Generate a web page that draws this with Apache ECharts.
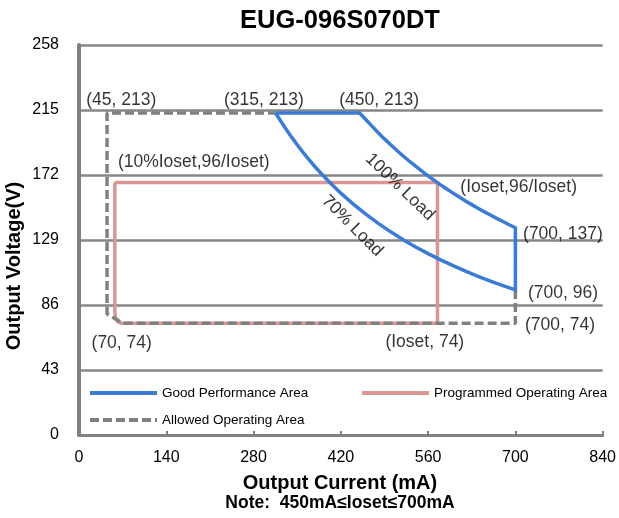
<!DOCTYPE html>
<html>
<head>
<meta charset="utf-8">
<script src="https://cdn.jsdelivr.net/npm/echarts@6/dist/echarts.min.js"></script>
<style>
html,body{margin:0;padding:0;background:#fff;}
#chart{width:619px;height:518px;}
</style>
</head>
<body>
<div id="chart"></div>
<script>
// ---- data ----
const xTicks = [0, 140, 280, 420, 560, 700, 840];
const yTicks = [0, 43, 86, 129, 172, 215, 258];

// Good Performance Area: top edge, 100% load curve, right edge, 70% load curve back
const goodTop = [[315, 213], [450, 213]];
const load100 = [
  [450, 213.3], [460, 208.7], [470, 204.3], [480, 200], [490, 195.9], [500, 192],
  [510, 188.2], [520, 184.6], [530, 181.1], [540, 177.8], [550, 174.5], [560, 171.4],
  [570, 168.4], [580, 165.5], [590, 162.7], [600, 160], [610, 157.4], [620, 154.8],
  [630, 152.4], [640, 150], [650, 147.7], [660, 145.5], [670, 143.3], [680, 141.2],
  [690, 139.1], [700, 137.1]
];
const load70 = [
  [700, 96], [680, 98.8], [660, 101.8], [640, 105], [620, 108.4], [600, 112],
  [580, 115.9], [560, 120], [540, 124.4], [520, 129.2], [500, 134.4], [480, 140],
  [460, 146.1], [440, 152.7], [420, 160], [400, 168], [390, 172.3], [380, 176.8],
  [370, 181.6], [360, 186.7], [350, 192], [340, 197.6], [330, 203.6], [320, 210],
  [315, 213]
];
const goodArea = goodTop.concat(load100, load70);

// Programmed Operating Area (Ioset ~ 575 mA)
const programmedArea = [
  [57.5, 167], [575, 167], [575, 74], [68, 74], [62, 75], [58.5, 77.5], [57.5, 82], [57.5, 167]
];

// Allowed Operating Area
const allowedArea = [
  [700, 96], [700, 74], [70, 74], [45, 80], [45, 213], [315, 213]
];

// annotation texts: [x, y, text, rotate]
const annotations = [
  [67.7, 221.6, '(45, 213)', 0],
  [296.5, 221.6, '(315, 213)', 0],
  [481.4, 221.6, '(450, 213)', 0],
  [184.1, 180.8, '(10%Ioset,96/Ioset)', 0],
  [705.3, 164.1, '(Ioset,96/Ioset)', 0],
  [776.3, 133, '(700, 137)', 0],
  [776.3, 93.9, '(700, 96)', 0],
  [771.5, 72.8, '(700, 74)', 0],
  [68.5, 60.9, '(70, 74)', 0],
  [554.7, 61.2, '(Ioset, 74)', 0],
  [514.9, 164.1, '100% Load', -44],
  [438.4, 138.3, '70% Load', -45]
];

const FONT = '"Liberation Sans", Arial, Helvetica, sans-serif';
const BLUE = '#3b7bd4';
const PINK = '#d99694';
const GRAY = '#808080';

const chart = echarts.init(document.getElementById('chart'), null, {renderer: 'canvas'});

const legendCommon = {
  orient: 'horizontal',
  itemWidth: 67,
  itemHeight: 14,
  padding: 0,
  textStyle: {fontFamily: FONT, fontSize: 13.5, color: '#000'},
  lineStyle: {width: 4},
  itemStyle: {opacity: 0},
  selectedMode: false
};

chart.setOption({
  animation: false,
  textStyle: {fontFamily: FONT},
  grid: {left: 79, right: 13, top: 45, bottom: 83, containLabel: false},
  xAxis: {
    type: 'value', min: xTicks[0], max: xTicks[xTicks.length - 1], interval: 140,
    axisLine: {show: true, lineStyle: {color: GRAY, width: 3}},
    axisTick: {show: true, inside: true, length: 4, lineStyle: {color: GRAY, width: 2}},
    splitLine: {show: false},
    axisLabel: {fontFamily: FONT, fontSize: 16, color: '#000', margin: 15}
  },
  yAxis: {
    type: 'value', min: yTicks[0], max: yTicks[yTicks.length - 1], interval: 43,
    axisLine: {show: true, lineStyle: {color: GRAY, width: 4}},
    axisTick: {show: false},
    splitLine: {show: true, lineStyle: {color: '#868686', width: 2.5}},
    axisLabel: {fontFamily: FONT, fontSize: 16, color: '#000', margin: 20}
  },
  legend: [
    Object.assign({left: 88, top: 386, data: ['Good Performance Area']}, legendCommon),
    Object.assign({left: 360, top: 386, data: ['Programmed Operating Area']}, legendCommon),
    Object.assign({left: 88, top: 413, data: ['Allowed Operating Area']}, legendCommon)
  ],
  series: [
    {
      name: 'Programmed Operating Area', type: 'line', data: programmedArea,
      symbol: 'none', z: 2, silent: true,
      lineStyle: {color: PINK, width: 3.5}, itemStyle: {color: PINK}
    },
    {
      name: 'Allowed Operating Area', type: 'line', data: allowedArea,
      symbol: 'none', z: 3, silent: true,
      lineStyle: {color: GRAY, width: 3.5, type: [9, 4]}, itemStyle: {color: GRAY}
    },
    {
      name: 'Good Performance Area', type: 'line', data: goodArea,
      symbol: 'none', z: 4, silent: true,
      lineStyle: {color: BLUE, width: 3.5, join: 'miter'}, itemStyle: {color: BLUE}
    },
    {
      name: 'annot', type: 'scatter', symbolSize: 0, z: 6, silent: true,
      data: annotations.map(a => ({
        value: [a[0], a[1]], name: a[2],
        label: {rotate: a[3]}
      })),
      label: {
        show: true, position: 'inside', formatter: p => p.name,
        fontFamily: FONT, fontSize: 17.5, color: '#000'
      }
    }
  ],
  graphic: [
    {type: 'text', x: 340, y: 21, style: {text: 'EUG-096S070DT', font: 'bold 25.5px ' + FONT, fill: '#000', textAlign: 'center', textVerticalAlign: 'middle'}},
    {type: 'text', x: 14, y: 266, rotation: Math.PI / 2, style: {text: 'Output Voltage(V)', font: 'bold 20px ' + FONT, fill: '#000', textAlign: 'center', textVerticalAlign: 'middle'}},
    {type: 'text', x: 340, y: 483, style: {text: 'Output Current (mA)', font: 'bold 20px ' + FONT, fill: '#000', textAlign: 'center', textVerticalAlign: 'middle'}},
    {type: 'text', x: 340, y: 503, style: {text: 'Note:  450mA\u2264Ioset\u2264700mA', font: 'bold 17.5px ' + FONT, fill: '#000', textAlign: 'center', textVerticalAlign: 'middle'}}
  ]
});
</script>
</body>
</html>
